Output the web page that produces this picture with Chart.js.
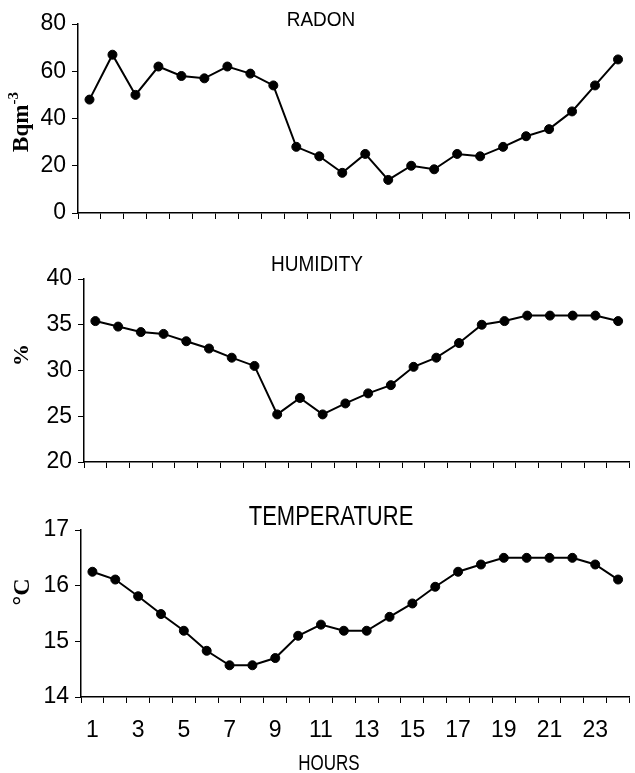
<!DOCTYPE html>
<html lang="en">
<head>
    <meta charset="UTF-8">
    <title>Radon, humidity and temperature by hour</title>
    <script src="https://cdn.jsdelivr.net/npm/chart.js"></script>
    <style>
        body { margin: 0; background: #fff; }
        #wrap { position: relative; width: 635px; height: 773px; }
        #wrap canvas { position: absolute; left: 0; }
    </style>
</head>
<body>

<div id="wrap">
    <canvas id="radonCanvas" width="635" height="240" style="top:0px"></canvas>
    <canvas id="humidityCanvas" width="635" height="245" style="top:240px"></canvas>
    <canvas id="tempCanvas" width="635" height="288" style="top:485px"></canvas>
</div>

<script type="text/javascript">
    // hourly readings
    const hours = ['1','2','3','4','5','6','7','8','9','10','11','12','13','14','15','16','17','18','19','20','21','22','23','24'];
    const radon = [48, 67, 50, 62, 58, 57, 62, 59, 54, 28, 24, 17, 25, 14, 20, 18.5, 25, 24, 28, 32.5, 35.5, 43, 54, 65];
    const humidity = [35.4, 34.8, 34.2, 34.0, 33.2, 32.4, 31.4, 30.5, 25.2, 27.0, 25.2, 26.4, 27.5, 28.4, 30.4, 31.4, 33.0, 35.0, 35.4, 36.0, 36.0, 36.0, 36.0, 35.4];
    const temperature = [16.25, 16.11, 15.81, 15.49, 15.19, 14.83, 14.57, 14.57, 14.7, 15.1, 15.3, 15.19, 15.19, 15.44, 15.68, 15.98, 16.25, 16.38, 16.5, 16.5, 16.5, 16.5, 16.38, 16.11];

    Chart.defaults.font.family = '"Liberation Sans", Arial, sans-serif';
    Chart.defaults.color = '#000';

    // draws the free-standing texts (panel titles, rotated axis titles)
    const panelText = {
        id: 'panelText',
        afterDraw(chart, args, opts) {
            const ctx = chart.ctx;
            (opts.items || []).forEach(item => {
                ctx.save();
                ctx.translate(item.x, item.y);
                if (item.rotate) ctx.rotate(-Math.PI / 2);
                if (item.stretch) ctx.scale(1, item.stretch);  // the source image is a bit tall
                ctx.fillStyle = '#000';
                ctx.textBaseline = 'middle';
                ctx.textAlign = 'left';
                ctx.font = item.font;
                const w = ctx.measureText(item.text).width;
                let supW = 0;
                if (item.sup) {
                    ctx.font = item.supFont;
                    supW = ctx.measureText(item.sup).width;
                }
                const start = -(w + supW) / 2;
                ctx.font = item.font;
                ctx.fillText(item.text, start, 0);
                if (item.sup) {
                    ctx.font = item.supFont;
                    ctx.fillText(item.sup, start + w, -8);
                }
                ctx.restore();
            });
        }
    };

    function makePanel(canvasId, values, cfg) {
        const ctx = document.getElementById(canvasId).getContext('2d');
        const canvasH = ctx.canvas.height;
        return new Chart(ctx, {
            type: 'line',
            data: {
                labels: hours,
                datasets: [{
                    data: values,
                    borderColor: '#000',
                    borderWidth: 2,
                    backgroundColor: '#000',
                    pointBackgroundColor: '#000',
                    pointBorderColor: '#000',
                    pointRadius: 4.5,
                    pointBorderWidth: 1,
                    tension: 0
                }]
            },
            options: {
                responsive: false,
                animation: false,
                layout: { padding: { top: cfg.top, right: 1, left: 0, bottom: 0 } },
                plugins: {
                    legend: { display: false },
                    tooltip: { enabled: false },
                    panelText: { items: cfg.texts }
                },
                scales: {
                    x: {
                        offset: true,
                        border: { color: '#000', width: 1.5 },
                        grid: { offset: true, drawOnChartArea: false, color: '#000', tickLength: 6, tickWidth: 1 },
                        ticks: {
                            display: cfg.showHours,
                            autoSkip: false,
                            maxRotation: 0,
                            padding: 14,
                            font: { size: 23 },
                            callback: function(value, index) {
                                return index % 2 === 0 ? hours[index] : '';
                            }
                        },
                        afterFit: function(scale) { scale.height = canvasH - cfg.bottom; }
                    },
                    y: {
                        min: cfg.min,
                        max: cfg.max,
                        border: { color: '#000', width: 1.5 },
                        grid: { drawOnChartArea: false, color: '#000', tickLength: 6, tickWidth: 1 },
                        ticks: { stepSize: cfg.step, padding: 6, font: { size: 23 } },
                        afterFit: function(scale) { scale.width = cfg.left; }
                    }
                }
            },
            plugins: [panelText]
        });
    }

    makePanel('radonCanvas', radon, {
        top: 24, bottom: 213, left: 78, min: 0, max: 80, step: 20, showHours: false,
        texts: [
            { text: 'RADON', x: 321, y: 20, stretch: 1.08, font: '19px "Liberation Sans", Arial' },
            { text: 'Bqm', sup: '-3', x: 22, y: 122, rotate: true,
              font: 'bold 23px "Liberation Serif", "Times New Roman"', supFont: 'bold 15px "Liberation Serif", "Times New Roman"' }
        ]
    });

    makePanel('humidityCanvas', humidity, {
        top: 39, bottom: 222, left: 84, min: 20, max: 40, step: 5, showHours: false,
        texts: [
            { text: 'HUMIDITY', x: 317, y: 25, stretch: 1.15, font: '19px "Liberation Sans", Arial' },
            { text: '%', x: 22, y: 115, rotate: true, font: 'bold 22px "Liberation Serif", "Times New Roman"' }
        ]
    });

    makePanel('tempCanvas', temperature, {
        top: 45, bottom: 212, left: 81, min: 14, max: 17, step: 1, showHours: true,
        texts: [
            { text: 'TEMPERATURE', x: 331, y: 33, stretch: 1.22, font: '22px "Liberation Sans", Arial' },
            { text: '°C', x: 23, y: 107, rotate: true, font: 'bold 24px "Liberation Serif", "Times New Roman"' },
            { text: 'HOURS', x: 329, y: 279, stretch: 1.25, font: '17px "Liberation Sans", Arial' }
        ]
    });
</script>

</body>
</html>
